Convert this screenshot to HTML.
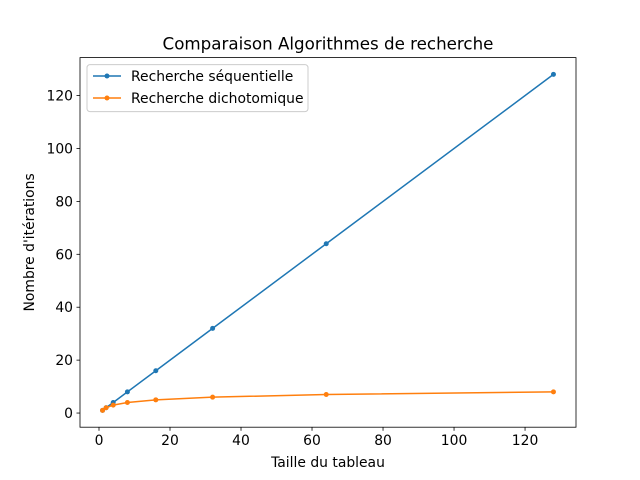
<!DOCTYPE html>
<html><head><meta charset="utf-8"><style>
body{margin:0;background:#fff;}
svg{display:block;font-family:"DejaVu Sans","Liberation Sans",sans-serif;}
</style></head><body>
<svg id="chart" width="640" height="480" viewBox="0 0 640 480">
<rect width="640" height="480" fill="#fff"/>
<text x="328" y="49.5" font-size="16.7" text-anchor="middle" fill="#000">Comparaison Algorithmes de recherche</text>
<g id="ticks"></g>
<g id="series"></g>
<rect x="80" y="57.6" width="496" height="369.6" fill="none" stroke="#000" stroke-width="0.8"/>
<text x="328" y="467" font-size="13.9" text-anchor="middle">Taille du tableau</text>
<text transform="translate(34,242.4) rotate(-90)" font-size="13.9" text-anchor="middle">Nombre d'itérations</text>
<g>
<rect x="87" y="64.6" width="221" height="47" rx="3" fill="#fff" fill-opacity="0.8" stroke="#ccc" stroke-width="1"/>
<g>
<line x1="93" y1="76" x2="121" y2="76" stroke="#1f77b4" stroke-width="1.5"/><circle cx="107" cy="76" r="2.5" fill="#1f77b4"/>
<text x="131" y="81" font-size="13.9">Recherche séquentielle</text></g>
<g>
<line x1="93" y1="98" x2="121" y2="98" stroke="#ff7f0e" stroke-width="1.5"/><circle cx="107" cy="98" r="2.5" fill="#ff7f0e"/>
<text x="131" y="103" font-size="13.9">Recherche dichotomique</text></g>
</g>
</svg>
<script>
const sizes=[1,2,4,8,16,32,64,128];
const sequentielle=[1,2,4,8,16,32,64,128];
const dichotomique=[1,2,3,4,5,6,7,8];
const xTicks=[0,20,40,60,80,100,120];
const yTicks=[0,20,40,60,80,100,120];
const NS="http://www.w3.org/2000/svg";
const L=80,R=576,T=57.6,B=427.2;
const allX=sizes, allY=sequentielle.concat(dichotomique);
const xmin0=Math.min(...allX),xmax0=Math.max(...allX),ymin0=Math.min(...allY),ymax0=Math.max(...allY);
const xm=(xmax0-xmin0)*0.05,ym=(ymax0-ymin0)*0.05;
const xmin=xmin0-xm,xmax=xmax0+xm,ymin=ymin0-ym,ymax=ymax0+ym;
const sx=v=>L+(v-xmin)/(xmax-xmin)*(R-L);
const sy=v=>B-(v-ymin)/(ymax-ymin)*(B-T);
const tg=document.getElementById('ticks');
function mk(tag,attrs,parent){const e=document.createElementNS(NS,tag);for(const k in attrs)e.setAttribute(k,attrs[k]);parent.appendChild(e);return e;}
xTicks.forEach(t=>{
  const g=mk('g',{},tg);
  
  
  mk('line',{x1:sx(t),x2:sx(t),y1:B,y2:B+3.5,stroke:'#000','stroke-width':0.8},g);
  const tx=mk('text',{x:sx(t),y:B+18,'font-size':13.9,'text-anchor':'middle'},g);tx.textContent=t;
});
yTicks.forEach(t=>{
  const g=mk('g',{},tg);
  
  
  mk('line',{x1:L-3.5,x2:L,y1:sy(t),y2:sy(t),stroke:'#000','stroke-width':0.8},g);
  const tx=mk('text',{x:L-7,y:sy(t)+5,'font-size':13.9,'text-anchor':'end'},g);tx.textContent=t;
});
const sg=document.getElementById('series');
[[sequentielle,'#1f77b4','series-sequentielle'],[dichotomique,'#ff7f0e','series-dichotomique']].forEach(([ys,c,n])=>{
  const g=mk('g',{},sg);
  
  
  mk('polyline',{points:sizes.map((x,i)=>sx(x)+','+sy(ys[i])).join(' '),fill:'none',stroke:c,'stroke-width':1.5},g);
  sizes.forEach((x,i)=>{
    const p=mk('circle',{cx:sx(x),cy:sy(ys[i]),r:2.5,fill:c},g);
    
    
  });
});
</script>
</body></html>
